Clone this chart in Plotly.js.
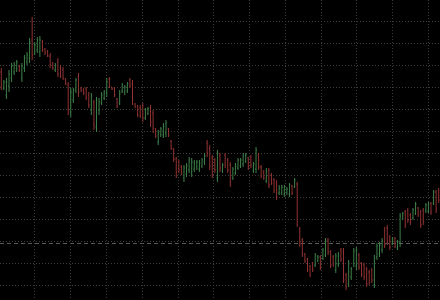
<!DOCTYPE html>
<html>
<head>
<meta charset="utf-8">
<script src="https://cdn.plot.ly/plotly-3.0.1.min.js"></script>
<style>
html,body{margin:0;padding:0;background:#000;}
#chart{width:440px;height:300px;}
</style>
</head>
<body>
<div id="chart"></div>
<script>
// OHLC values (bar by bar, left to right)
const openPrices = [
1.1128,1.1112,1.1105,1.1114,1.1122,1.1128,1.1131,1.1134,1.1122,1.1132,1.1138,
1.1142,1.1160,1.1147,1.1150,1.1148,1.1158,1.1151,1.1149,1.1144,1.1137,
1.1130,1.1138,1.1132,1.1130,1.1121,1.1115,1.1088,1.1100,1.1110,1.1123,
1.1112,1.1110,1.1111,1.1105,1.1090,1.1098,1.1073,1.1090,1.1097,1.1102,1.1107,
1.1121,1.1113,1.1112,1.1101,1.1097,1.1109,1.1108,1.1109,1.1120,1.1116,
1.1096,1.1094,1.1092,1.1094,1.1082,1.1086,1.1092,1.1087,1.1071,1.1058,
1.1065,1.1065,1.1067,1.1071,1.1059,1.1051,1.1041,1.1038,1.1033,1.1022,
1.1026,1.1030,1.1027,1.1031,1.1033,1.1031,1.1034,1.1038,1.1057,1.1052,
1.1042,1.1040,1.1022,1.1045,1.1029,1.1045,1.1040,1.1035,1.1022,1.1027,
1.1032,1.1034,1.1036,1.1039,1.1042,1.1043,1.1029,1.1031,1.1045,1.1033,1.1028,
1.1019,1.1030,1.1025,1.1020,1.1017,1.1007,1.1007,1.1006,1.1007,1.1006,
1.1014,1.1013,1.1016,1.0971,1.0960,1.0946,1.0941,1.0934,1.0937,1.0935,
1.0939,1.0943,1.0942,1.0945,1.0960,1.0948,1.0943,1.0930,1.0936,
1.0950,1.0948,1.0925,1.0916,1.0923,1.0937,1.0934,1.0945,1.0937,
1.0935,1.0931,1.0928,1.0930,1.0915,1.0943,1.0946,1.0950,1.0970,1.0972,
1.0963,1.0956,1.0962,1.0952,1.0957,1.0981,1.0988,1.0990,1.0985,
1.0982,1.0987,1.0992,1.0988,1.0990,1.0989,1.0989,1.0997,1.0997,1.1008,
1.1010];
const highPrices = [
1.1132,1.1120,1.1122,1.1130,1.1137,1.1138,1.1140,1.1135,1.1137,1.1145,1.1148,
1.1162,1.1183,1.1158,1.1163,1.1164,1.1160,1.1152,1.1150,1.1147,1.1138,
1.1137,1.1142,1.1135,1.1133,1.1122,1.1118,1.1112,1.1112,1.1122,1.1127,
1.1113,1.1112,1.1113,1.1108,1.1107,1.1100,1.1103,1.1102,1.1108,1.1110,1.1122,
1.1123,1.1113,1.1113,1.1102,1.1110,1.1117,1.1115,1.1118,1.1122,1.1120,
1.1097,1.1095,1.1095,1.1097,1.1092,1.1093,1.1095,1.1090,1.1072,1.1070,
1.1073,1.1077,1.1080,1.1072,1.1060,1.1052,1.1043,1.1040,1.1035,1.1035,
1.1037,1.1043,1.1042,1.1040,1.1040,1.1040,1.1042,1.1047,1.1060,1.1055,
1.1045,1.1042,1.1050,1.1047,1.1037,1.1047,1.1042,1.1038,1.1033,1.1037,
1.1042,1.1042,1.1047,1.1047,1.1043,1.1045,1.1038,1.1053,1.1047,1.1035,1.1030,
1.1032,1.1032,1.1027,1.1022,1.1020,1.1015,1.1015,1.1015,1.1013,1.1017,
1.1015,1.1022,1.1018,1.0973,1.0962,1.0947,1.0942,1.0935,1.0938,1.0947,
1.0945,1.0945,1.0952,1.0962,1.0962,1.0950,1.0945,1.0947,1.0948,
1.0952,1.0952,1.0927,1.0940,1.0933,1.0952,1.0953,1.0947,1.0938,
1.0937,1.0933,1.0930,1.0932,1.0945,1.0957,1.0958,1.0962,1.0973,1.0975,
1.0965,1.0963,1.0963,1.0960,1.0987,1.0988,1.0990,1.0992,1.0987,
1.0992,1.0998,1.0993,1.0990,1.0992,1.0997,1.0998,1.0998,1.1010,1.1010,
1.1012];
const lowPrices = [
1.1110,1.1110,1.1101,1.1108,1.1118,1.1125,1.1128,1.1128,1.1118,1.1128,1.1135,
1.1137,1.1140,1.1145,1.1147,1.1143,1.1148,1.1145,1.1143,1.1132,1.1130,
1.1128,1.1123,1.1122,1.1120,1.1115,1.1085,1.1083,1.1097,1.1107,1.1103,
1.1108,1.1105,1.1100,1.1092,1.1085,1.1070,1.1068,1.1085,1.1095,1.1100,1.1103,
1.1112,1.1110,1.1103,1.1092,1.1095,1.1107,1.1105,1.1107,1.1112,1.1095,
1.1092,1.1083,1.1082,1.1078,1.1080,1.1085,1.1073,1.1067,1.1062,1.1055,
1.1063,1.1062,1.1063,1.1063,1.1050,1.1038,1.1022,1.1027,1.1025,1.1018,
1.1023,1.1027,1.1023,1.1028,1.1030,1.1028,1.1032,1.1035,1.1043,1.1030,
1.1022,1.1027,1.1018,1.1028,1.1027,1.1032,1.1027,1.1013,1.1020,1.1025,
1.1030,1.1032,1.1033,1.1037,1.1030,1.1032,1.1027,1.1027,1.1030,1.1022,1.1020,
1.1017,1.1012,1.1015,1.1007,1.1000,1.1005,1.1005,1.1003,1.1005,1.1003,
1.1005,1.1012,1.0973,1.0953,1.0943,1.0937,1.0928,1.0923,1.0928,1.0933,
1.0938,1.0930,1.0940,1.0943,1.0945,1.0932,1.0933,1.0927,1.0933,
1.0938,1.0917,1.0910,1.0913,1.0920,1.0933,1.0930,1.0930,1.0923,
1.0920,1.0913,1.0915,1.0917,1.0912,1.0940,1.0943,1.0947,1.0952,1.0955,
1.0950,1.0955,1.0952,1.0950,1.0953,1.0980,1.0972,1.0977,1.0975,
1.0980,1.0985,1.0983,1.0972,1.0975,1.0987,1.0987,1.0985,1.0995,1.0987,
1.0997];
const closePrices = [
1.1114,1.1118,1.1118,1.1126,1.1134,1.1135,1.1138,1.1130,1.1134,1.1142,1.1145,
1.1158,1.1145,1.1155,1.1160,1.1160,1.1150,1.1147,1.1144,1.1135,1.1132,
1.1135,1.1126,1.1124,1.1122,1.1116,1.1090,1.1108,1.1110,1.1120,1.1108,
1.1109,1.1107,1.1102,1.1095,1.1104,1.1075,1.1100,1.1098,1.1105,1.1108,1.1118,
1.1114,1.1111,1.1105,1.1094,1.1107,1.1115,1.1113,1.1116,1.1114,1.1100,
1.1093,1.1085,1.1084,1.1082,1.1090,1.1091,1.1078,1.1072,1.1064,1.1067,
1.1071,1.1074,1.1077,1.1065,1.1052,1.1041,1.1028,1.1030,1.1027,1.1032,
1.1034,1.1040,1.1038,1.1037,1.1038,1.1037,1.1040,1.1044,1.1047,1.1034,
1.1025,1.1030,1.1047,1.1032,1.1035,1.1035,1.1030,1.1018,1.1031,1.1034,
1.1040,1.1040,1.1044,1.1045,1.1033,1.1035,1.1036,1.1050,1.1033,1.1024,1.1022,
1.1029,1.1015,1.1017,1.1010,1.1003,1.1012,1.1013,1.1013,1.1011,1.1015,
1.1007,1.1020,1.0975,1.0956,1.0946,1.0939,1.0930,1.0925,1.0930,1.0944,
1.0943,1.0933,1.0950,1.0959,1.0948,1.0935,1.0936,1.0944,1.0945,
1.0941,1.0920,1.0913,1.0937,1.0931,1.0949,1.0950,1.0933,1.0926,
1.0923,1.0916,1.0918,1.0920,1.0942,1.0954,1.0955,1.0959,1.0955,1.0959,
1.0953,1.0961,1.0954,1.0958,1.0984,1.0986,1.0975,1.0980,1.0978,
1.0990,1.0996,1.0985,1.0975,1.0978,1.0995,1.0996,1.0988,1.1008,1.0990,
1.1000];
// horizontal reference level (dashed line)
const refLevel = 1.09565;

const barIndex = openPrices.map((_, i) => i);

const trace = {
  type: 'ohlc',
  x: barIndex,
  open: openPrices, high: highPrices, low: lowPrices, close: closePrices,
  increasing: {line: {color: '#3d8149', width: 1}},
  decreasing: {line: {color: '#923232', width: 1}},
  tickwidth: 0.35,
  hoverinfo: 'skip'
};

const axisCommon = {
  showticklabels: false, zeroline: false, showline: false, ticks: '',
  showgrid: true, gridcolor: '#3c3c3c', griddash: '1px,2px', gridwidth: 1,
  tickmode: 'linear', fixedrange: true
};

const layout = {
  width: 440, height: 300,
  margin: {l: 0, r: 0, t: 0, b: 0, pad: 0},
  paper_bgcolor: '#000000', plot_bgcolor: '#000000',
  showlegend: false,
  xaxis: Object.assign({}, axisCommon, {
    range: [-0.5, barIndex.length - 0.5], tick0: 13.1, dtick: 13.9,
    rangeslider: {visible: false}
  }),
  yaxis: Object.assign({}, axisCommon, {
    range: [1.0900, 1.1200], tick0: 1.0915, dtick: 0.0022
  }),
  shapes: [{
    type: 'line', xref: 'paper', x0: 0, x1: 1, yref: 'y', y0: refLevel, y1: refLevel,
    line: {color: '#5a5a5a', width: 1, dash: '4px,3px'}, layer: 'below'
  }]
};

Plotly.newPlot('chart', [trace], layout, {staticPlot: true, displayModeBar: false});
</script>
</body>
</html>
